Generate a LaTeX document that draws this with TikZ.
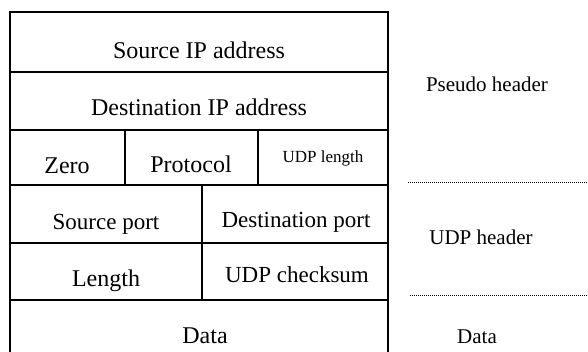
\documentclass[tikz,border=0pt]{standalone}
\usepackage{fontspec}
\setmainfont{Liberation Serif}

\tikzset{
    frame/.style={line width=1.3pt, line cap=rect},
    lbl/.style={anchor=base, inner sep=0pt, font=\fontsize{24}{28}\selectfont},
    lblm/.style={lbl, font=\fontsize{23}{27}\selectfont},
    lbls/.style={lbl, font=\fontsize{17}{20}\selectfont},
    side/.style={lbl, font=\fontsize{21}{25}\selectfont},
    sep/.style={line width=0.7pt, dash pattern=on 0.7pt off 1.3pt},
}

\begin{document}
\begin{tikzpicture}[x=1pt,y=-1pt]
    \useasboundingbox (0,0) rectangle (588,352);
    % grid of the header
    \draw[frame] (10,352) -- (10,12) -- (388,12) -- (388,352);
    \foreach \y in {72,130,185,243,300}
        \draw[frame] (10,\y) -- (388,\y);
    \draw[frame] (125,130) -- (125,185);
    \draw[frame] (258,130) -- (258,185);
    \draw[frame] (202,185) -- (202,300);
    % fields
    \node[lbl] (srcip) at (199,59) {Source IP address};
    \node[lbl] (dstip) at (199,116) {Destination IP address};
    \node[lbl] (zero) at (67,174) {Zero};
    \node[lbl] (proto) at (191,173) {Protocol};
    \node[lbls] (udplen) at (323,163) {UDP length};
    \node[lblm] (srcport) at (106,230) {Source port};
    \node[lblm] (dstport) at (296,228) {Destination port};
    \node[lbl] (len) at (106,287) {Length};
    \node[lblm] (chk) at (297,282) {UDP checksum};
    \node[lbl] (data) at (205,343) {Data};
    % parts on the right
    \node[side] (pseudo) at (487,92) {Pseudo header};
    \node[side] (udphdr) at (481,245) {UDP header};
    \node[side] (datapart) at (477,343) {Data};
    \coordinate (s1a) at (408,182);
    \coordinate (s1b) at (588,182);
    \coordinate (s2a) at (410,295);
    \coordinate (s2b) at (588,295);
    \draw[sep] (s1a) -- (s1b);
    \draw[sep] (s2a) -- (s2b);
\end{tikzpicture}
\end{document}
